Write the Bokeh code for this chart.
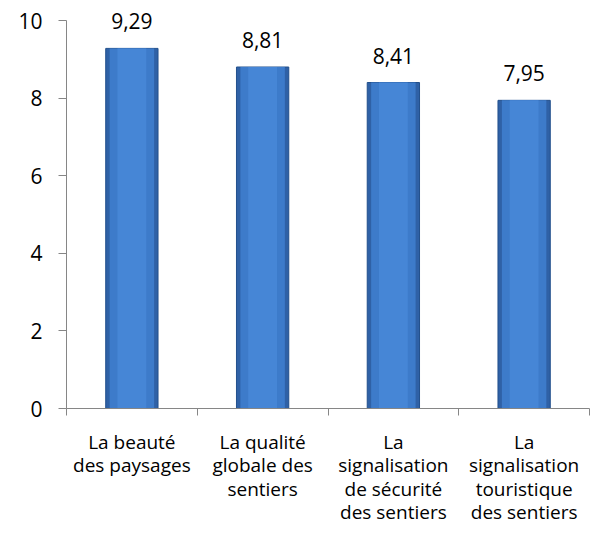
from bokeh.plotting import figure
from bokeh.models import FixedTicker, ColumnDataSource, Range1d, LabelSet
from bokeh.core.properties import value
from bokeh.embed import file_html
from bokeh.resources import INLINE

categories = ["La beauté\ndes paysages",
              "La qualité\nglobale des\nsentiers",
              "La\nsignalisation\nde sécurité\ndes sentiers",
              "La\nsignalisation\ntouristique\ndes sentiers"]
scores = [9.29, 8.81, 8.41, 7.95]
score_labels = ["9,29", "8,81", "8,41", "7,95"]
y_ticks = [0, 2, 4, 6, 8, 10]

FONT = "Open Sans"
n = len(categories)
xs = [i + 0.5 for i in range(n)]

src = ColumnDataSource(dict(x=xs, top=scores, lab=score_labels))

p = figure(width=592, height=530, output_backend="svg", toolbar_location=None,
           x_range=Range1d(0, n), y_range=Range1d(0, 10.5))
p.min_border_left = 66
p.min_border_top = 1
p.min_border_bottom = 122
p.min_border_right = 3
p.outline_line_color = None
p.xgrid.visible = False
p.ygrid.visible = False

# bars with bevel-like look (layered to suggest the gradient)
p.vbar(x="x", top="top", width=0.4, bottom=0, source=src,
       fill_color="#2f61a6", line_color="#22508c", line_width=1)
p.vbar(x="x", top="top", width=0.34, bottom=0, source=src,
       fill_color="#3d7bca", line_color=None)
p.vbar(x="x", top="top", width=0.22, bottom=0, source=src,
       fill_color="#4686d6", line_color=None)

labels = LabelSet(x="x", y="top", text="lab", source=src, text_align="center",
                  text_baseline="bottom", y_offset=19, text_font=value(FONT),
                  text_font_size=value("21px"), text_color=value("#000000"))
p.add_layout(labels)

ax = p.xaxis[0]
ax.ticker = FixedTicker(ticks=xs, minor_ticks=list(range(n + 1)))
ax.major_label_overrides = {x: c for x, c in zip(xs, categories)}
ax.major_tick_out = 0
ax.major_tick_in = 0
ax.minor_tick_out = 7
ax.minor_tick_in = 0
ax.minor_tick_line_color = "#868686"
ax.axis_line_color = "#868686"
ax.major_label_text_font = FONT
ax.major_label_text_font_size = "19px"
ax.major_label_text_line_height = 0.91
ax.major_label_text_color = "#000000"
ax.major_label_standoff = 13

ay = p.yaxis[0]
ay.ticker = FixedTicker(ticks=y_ticks, minor_ticks=[])
ay.bounds = (0, 10)
ay.major_tick_out = 8
ay.major_tick_in = 0
ay.major_tick_line_color = "#868686"
ay.axis_line_color = "#868686"
ay.major_label_text_font = FONT
ay.major_label_text_font_size = "21px"
ay.major_label_text_color = "#000000"
ay.major_label_standoff = 16

open("out.html", "w").write(file_html(p, INLINE))
